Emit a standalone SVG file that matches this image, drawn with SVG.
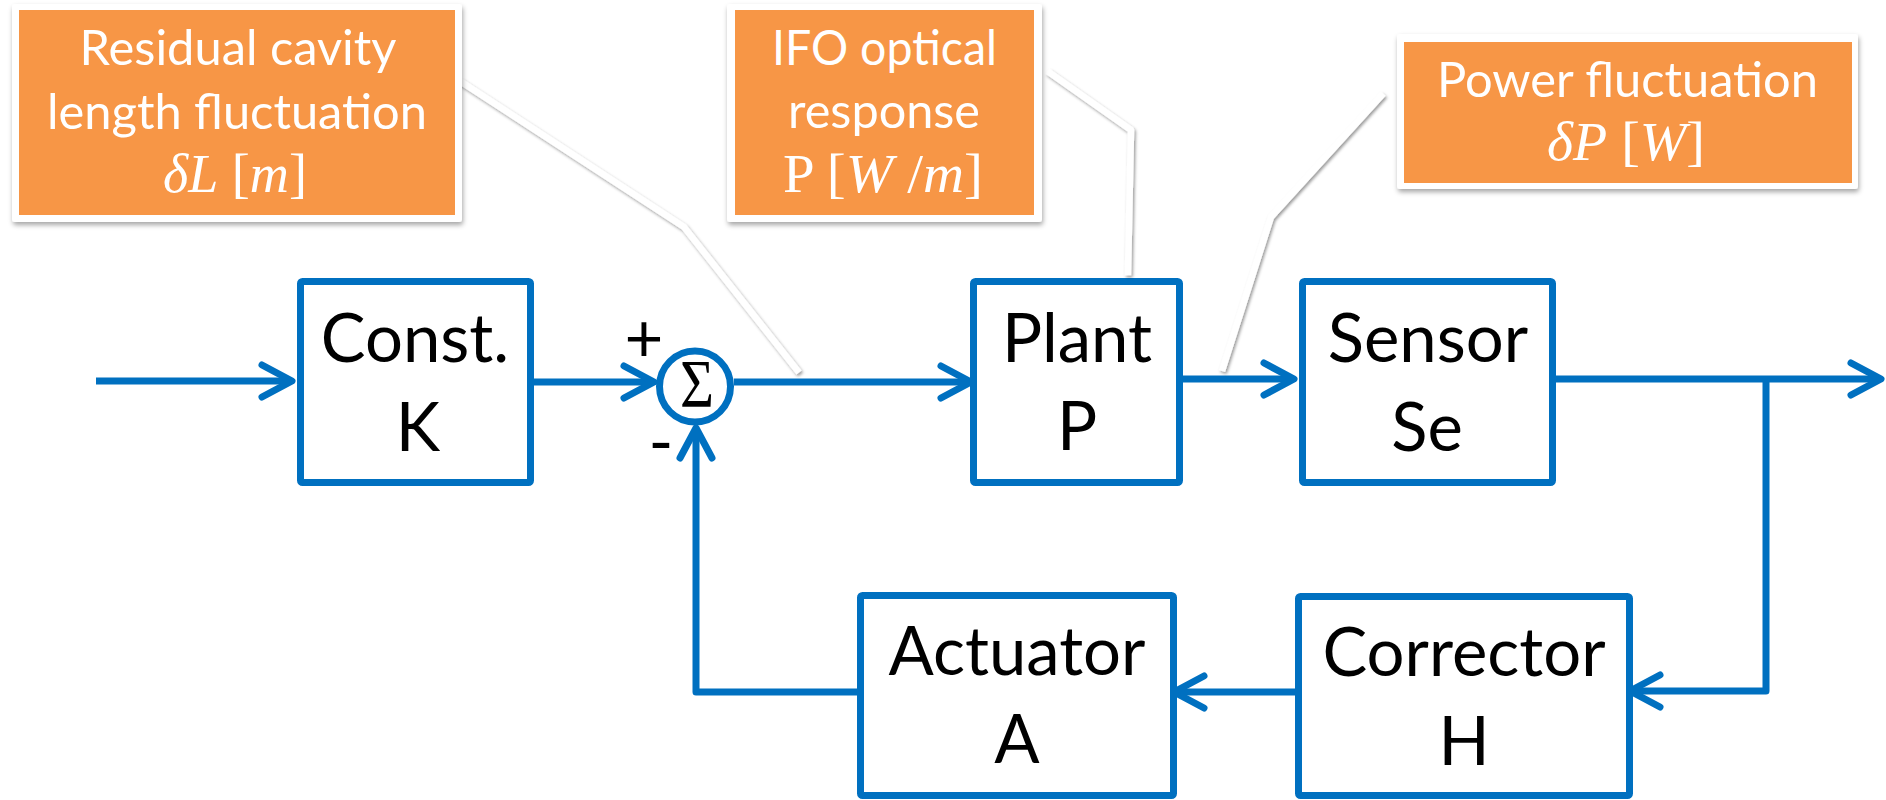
<svg xmlns="http://www.w3.org/2000/svg" width="1886" height="800" viewBox="0 0 1886 800">
  <defs>
    <style>
      .box { fill: #ffffff; stroke: #0070C0; stroke-width: 7; stroke-linejoin: round; }
      .wire { fill: none; stroke: #0070C0; stroke-width: 7; stroke-linejoin: round; }
      .label { font-family: Lato, "Open Sans", "Liberation Sans", sans-serif; font-size: 67px; fill: #000000; text-anchor: middle; }
      .note { font-family: Lato, "Open Sans", "Liberation Sans", sans-serif; font-size: 48px; fill: #ffffff; text-anchor: middle; }
      .math { font-family: "Liberation Serif", "DejaVu Serif", serif; font-size: 55px; fill: #ffffff; text-anchor: middle; }
      .frame { fill: #ffffff; }
      .panel { fill: #F79646; }
      .lead { fill: none; stroke: #ffffff; stroke-width: 6.5; stroke-linejoin: round; stroke-linecap: square; }
    </style>
    <marker id="chev" viewBox="-40 -20 44 40" refX="0" refY="0" markerWidth="44" markerHeight="40" markerUnits="userSpaceOnUse" orient="auto" overflow="visible">
      <path d="M-30,-16 L0,0 L-30,16" fill="none" stroke="#0070C0" stroke-width="7" stroke-linecap="round" stroke-linejoin="round"/>
    </marker>
    <filter id="shadow" x="-5%" y="-5%" width="115%" height="125%">
      <feDropShadow dx="1" dy="3" stdDeviation="2.5" flood-color="#000000" flood-opacity="0.35"/>
    </filter>
    <filter id="lineshadow" x="-10%" y="-10%" width="125%" height="125%">
      <feDropShadow dx="1.5" dy="2" stdDeviation="1.5" flood-color="#000000" flood-opacity="0.4"/>
    </filter>
  </defs>

  <!-- signal connectors -->
  <g id="connectors">
    <path class="wire" d="M96,381 H292" marker-end="url(#chev)"/>
    <path class="wire" d="M534,382 H654" marker-end="url(#chev)"/>
    <path class="wire" d="M734,382 H971" marker-end="url(#chev)"/>
    <path class="wire" d="M1183,379 H1294" marker-end="url(#chev)"/>
    <path class="wire" d="M1556,379 H1881" marker-end="url(#chev)"/>
    <path class="wire" d="M1766,379 V691 H1630" marker-end="url(#chev)"/>
    <path class="wire" d="M1298,692 H1174" marker-end="url(#chev)"/>
    <path class="wire" d="M857,692 H696 V428" marker-end="url(#chev)"/>
  </g>

  <!-- block nodes -->
  <g id="const">
    <rect class="box" x="300.5" y="281.5" width="230" height="201" rx="2"/>
    <text class="label" x="415" y="362">Const.</text>
    <text class="label" x="418" y="451">K</text>
  </g>

  <g id="sum">
    <circle cx="695" cy="386.5" r="35.5" fill="#ffffff" stroke="#0070C0" stroke-width="7"/>
    <text x="697" y="406" font-family="'Liberation Serif', 'DejaVu Serif', serif" font-size="68" text-anchor="middle" fill="#000000" textLength="34" lengthAdjust="spacingAndGlyphs">Σ</text>
    <text class="label" x="644" y="362" font-size="58">+</text>
    <text class="label" x="661" y="466" font-size="60">-</text>
  </g>

  <g id="plant">
    <rect class="box" x="973.5" y="281.5" width="206" height="201" rx="2"/>
    <text class="label" x="1077" y="362">Plant</text>
    <text class="label" x="1077" y="450">P</text>
  </g>

  <g id="sensor">
    <rect class="box" x="1302.5" y="281.5" width="250" height="201" rx="2"/>
    <text class="label" x="1428" y="362">Sensor</text>
    <text class="label" x="1427" y="451">Se</text>
  </g>

  <g id="actuator">
    <rect class="box" x="860.5" y="595.5" width="313" height="200" rx="2"/>
    <text class="label" x="1017" y="675">Actuator</text>
    <text class="label" x="1017" y="763">A</text>
  </g>

  <g id="corrector">
    <rect class="box" x="1298.5" y="596.5" width="331" height="199" rx="2"/>
    <text class="label" x="1464" y="676">Corrector</text>
    <text class="label" x="1464" y="765">H</text>
  </g>

  <!-- callout leader lines -->
  <g id="leaders" filter="url(#lineshadow)">
    <polyline class="lead" points="463,83 684,227 797,370"/>
    <polyline class="lead" points="1050,73 1131,130 1128,272"/>
    <polyline class="lead" points="1381,96 1271,217 1223,368"/>
  </g>

  <!-- callouts -->
  <g id="callout-length">
    <rect class="frame" x="12" y="4" width="450" height="218" rx="3" filter="url(#shadow)"/>
    <rect class="panel" x="19" y="10" width="436" height="205"/>
    <text class="note" x="238" y="65" textLength="317" lengthAdjust="spacingAndGlyphs">Residual cavity</text>
    <text class="note" x="237" y="129" textLength="380" lengthAdjust="spacingAndGlyphs">length fluctuation</text>
    <text class="math" x="235" y="192" textLength="144" lengthAdjust="spacingAndGlyphs"><tspan font-style="italic">δL</tspan> [<tspan font-style="italic">m</tspan>]</text>
  </g>

  <g id="callout-response">
    <rect class="frame" x="727" y="4" width="315" height="218" rx="3" filter="url(#shadow)"/>
    <rect class="panel" x="735" y="10" width="299" height="205"/>
    <text class="note" x="884.5" y="65" textLength="225" lengthAdjust="spacingAndGlyphs">IFO optical</text>
    <text class="note" x="884" y="128" textLength="192" lengthAdjust="spacingAndGlyphs">response</text>
    <text class="math" x="883" y="192" textLength="200" lengthAdjust="spacingAndGlyphs">P [<tspan font-style="italic">W</tspan> /<tspan font-style="italic">m</tspan>]</text>
  </g>

  <g id="callout-power">
    <rect class="frame" x="1397" y="34" width="461" height="155" rx="3" filter="url(#shadow)"/>
    <rect class="panel" x="1404" y="42" width="448" height="141"/>
    <text class="note" x="1627.5" y="97" textLength="381" lengthAdjust="spacingAndGlyphs">Power fluctuation</text>
    <text class="math" x="1626" y="160" textLength="158" lengthAdjust="spacingAndGlyphs"><tspan font-style="italic">δP</tspan> [<tspan font-style="italic">W</tspan>]</text>
  </g>
</svg>
